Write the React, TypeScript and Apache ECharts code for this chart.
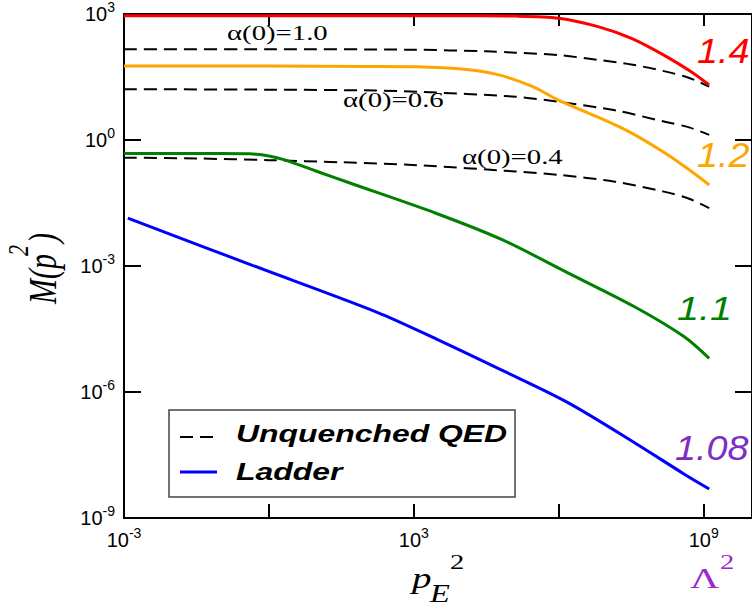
import React, { useEffect, useRef } from "react";
import * as echarts from "echarts";

const SANS = "Liberation Sans, Arial, sans-serif";
const SERIF = "Liberation Serif, Times New Roman, serif";

// tick label exponents shown
const xLabelExps = [-3, 3, 9];
const yLabelExps = [-9, -6, -3, 0, 3];

// [p_E^2, M(p^2)]
const ladderCurve = [
  [1.2e-3, 0.0138], [0.44, 1.05e-3], [174, 7.9e-5], [2950, 1.82e-5], [7.9e4, 3.0e-6],
  [1.58e6, 5.5e-7], [3.7e7, 6.2e-8], [3.9e8, 1.12e-8], [1.3e9, 4.9e-9],
];
const curve14 = [
  [1e-3, 912], [1, 912], [1e3, 912], [1.3e4, 905], [1.3e5, 891], [1e6, 794],
  [6.5e6, 501], [3.2e7, 263], [1.5e8, 105], [5.4e8, 42.7], [1.3e9, 20.4],
];
const curve12 = [
  [1e-3, 57.5], [1, 57.5], [100, 56.6], [1.15e3, 55.6], [1.23e4, 47.9], [5.75e4, 35.5],
  [2.9e5, 18.6], [9.8e5, 8.9], [6.3e6, 3.55], [3.16e7, 1.48], [1.58e8, 0.49], [5e8, 0.195], [1.3e9, 0.085],
];
const curve11 = [
  [1e-3, 0.479], [0.1, 0.479], [0.4, 0.468], [1, 0.417], [2.2, 0.331], [10, 0.178], [49, 0.0933],
  [2950, 0.0178], [6.9e4, 4.17e-3], [1.58e6, 6.76e-4], [3.7e7, 1.07e-4], [3.9e8, 2.09e-5], [1.3e9, 6.3e-6],
];
const qedAlpha10 = [
  [1e-3, 145], [1, 145], [1e3, 141], [3.16e4, 129], [1.26e5, 120], [1e6, 105],
  [6.3e6, 81], [3.16e7, 63], [1.58e8, 43], [5e8, 30], [1.3e9, 18.6],
];
const qedAlpha06 = [
  [1e-3, 16.2], [1, 15.8], [158, 15.1], [1.15e3, 14.1], [1.3e5, 10.7], [1e6, 8.1],
  [1.45e7, 5.1], [1.5e8, 2.75], [5e8, 2.0], [1.3e9, 1.32],
];
const qedAlpha04 = [
  [1e-3, 0.38], [3.16e-2, 0.363], [1, 0.331], [31.6, 0.295], [1.15e3, 0.251], [1.3e5, 0.178],
  [1e6, 0.148], [1.45e7, 0.102], [1.5e8, 0.059], [5e8, 0.040], [1.3e9, 0.024],
];

export default function App() {
  const ref = useRef<HTMLDivElement>(null);
  useEffect(() => {
    document.body.style.margin = "0";
    const chart = echarts.init(ref.current!, null, { renderer: "svg" });
    const fmt = (show: number[]) => (v: number) => {
      const e = Math.round(Math.log10(v));
      return show.includes(e) ? `{b|10}{s|${e}}` : "";
    };
    const rich = {
      b: { fontSize: 20, fontFamily: SANS, color: "#000" },
      s: { fontSize: 14, fontFamily: SANS, color: "#000", padding: [0, 0, 14, 0] },
    };
    const axisBase = (tickLen: number) => ({
      type: "log",
      logBase: 10,
      interval: 3,
      splitLine: { show: false },
      minorTick: { show: false },
      axisLine: { show: true, onZero: false, lineStyle: { color: "#000", width: 2 } },
      axisTick: { show: true, inside: true, length: tickLen, lineStyle: { color: "#000", width: 2 } },
    });
    const solid = (name: string, data: number[][], color: string) => ({
      name, type: "line", data, showSymbol: false, smooth: 0.3,
      lineStyle: { color, width: 3, join: "round" }, itemStyle: { color }, xAxisIndex: 0, yAxisIndex: 0,
    });
    const dashed = (name: string, data: number[][]) => ({
      name, type: "line", data, showSymbol: false, smooth: 0.3,
      lineStyle: { color: "#000", width: 2, type: [13, 7] }, itemStyle: { color: "#000" }, xAxisIndex: 0, yAxisIndex: 0,
    });
    const txt = (text: string, x: number, y: number, size: number, family: string, fill: string, opts: any = {}) => ({
      type: "text", x, y, scaleX: opts.scaleX ?? 1, scaleY: opts.scaleY ?? 1, rotation: opts.rotation ?? 0,
      style: {
        text, fill, fontSize: size, fontFamily: family, fontStyle: opts.italic ? "italic" : "normal",
        fontWeight: opts.bold ? "bold" : "normal", textAlign: opts.align ?? "left", align: opts.align ?? "left",
        textVerticalAlign: "middle", verticalAlign: "middle",
      },
    });
    const rot = Math.PI / 2;
    chart.setOption({
      animation: false,
      backgroundColor: "#fff",
      grid: { left: 124, top: 14, width: 635, height: 504, containLabel: false },
      xAxis: [
        { ...axisBase(14), position: "bottom", min: 1e-3, max: 1e10,
          axisLabel: { show: true, formatter: fmt(xLabelExps), rich, margin: 8, showMaxLabel: false } },
        { ...axisBase(12), position: "top", min: 1e-3, max: 1e10, axisLabel: { show: false } },
      ],
      yAxis: [
        { ...axisBase(17), position: "left", min: 1e-9, max: 1e3,
          axisLabel: { show: true, formatter: fmt(yLabelExps), rich, margin: 9 } },
        { ...axisBase(17), position: "right", min: 1e-9, max: 1e3, axisLabel: { show: false } },
      ],
      series: [
        dashed("α(0)=1.0", qedAlpha10),
        dashed("α(0)=0.6", qedAlpha06),
        dashed("α(0)=0.4", qedAlpha04),
        solid("1.4", curve14, "#ff0000"),
        solid("1.2", curve12, "#ffa500"),
        solid("1.1", curve11, "#008000"),
        solid("Ladder", ladderCurve, "#0000ff"),
      ],
      graphic: [
        txt("α(0)=1.0", 227, 33, 21, SERIF, "#000", { scaleX: 1.37 }),
        txt("α(0)=0.6", 343, 100, 21, SERIF, "#000", { scaleX: 1.37 }),
        txt("α(0)=0.4", 462, 157, 21, SERIF, "#000", { scaleX: 1.37 }),
        txt("1.4", 697, 51, 35, SANS, "#ff0000", { italic: true, scaleX: 1.08 }),
        txt("1.2", 697, 155, 35, SANS, "#ffa500", { italic: true, scaleX: 1.08 }),
        txt("1.1", 677, 309, 33, SANS, "#008000", { italic: true, scaleX: 1.2 }),
        txt("1.08", 675, 448, 35, SANS, "#7d2fc2", { italic: true, scaleX: 1.08 }),
        { type: "rect", shape: { x: 169, y: 410, width: 346, height: 87 },
          style: { fill: "#fff", stroke: "#444", lineWidth: 1.5 }, z: 10 },
        { type: "line", shape: { x1: 180, y1: 437, x2: 217, y2: 437 },
          style: { stroke: "#000", lineWidth: 2, lineDash: [13, 7] }, z: 11 },
        { type: "line", shape: { x1: 180, y1: 472, x2: 217, y2: 472 },
          style: { stroke: "#0000ff", lineWidth: 3 }, z: 11 },
        { ...txt("Unquenched QED", 236, 434, 24, SANS, "#000", { italic: true, bold: true, scaleX: 1.33 }), z: 11 },
        { ...txt("Ladder", 236, 472, 24, SANS, "#000", { italic: true, bold: true, scaleX: 1.33 }), z: 11 },
        // y-axis title M(p^2), rotated
        txt("M(p", 42, 304, 30, SERIF, "#000", { italic: true, rotation: rot, scaleY: 1.35 }),
        txt("2", 18, 256, 22, SERIF, "#000", { italic: true, rotation: rot, scaleY: 1.3 }),
        txt(")", 42, 243, 30, SERIF, "#000", { italic: true, rotation: rot, scaleY: 1.35 }),
        // x-axis title p_E^2 and Λ^2
        txt("p", 412, 578, 30, SERIF, "#000", { italic: true, scaleX: 1.3 }),
        txt("E", 430, 593, 25, SERIF, "#000", { italic: true, scaleX: 1.3 }),
        txt("2", 450, 562, 22, SERIF, "#000", { scaleX: 1.3 }),
        txt("Λ", 690, 578, 30, SERIF, "#9a28cc", { scaleX: 1.35 }),
        txt("2", 720, 562, 22, SERIF, "#9a28cc", { scaleX: 1.3 }),
      ],
    });
    return () => chart.dispose();
  }, []);
  return <div ref={ref} style={{ position: "fixed", left: 0, top: 0, width: 752, height: 610 }} />;
}
